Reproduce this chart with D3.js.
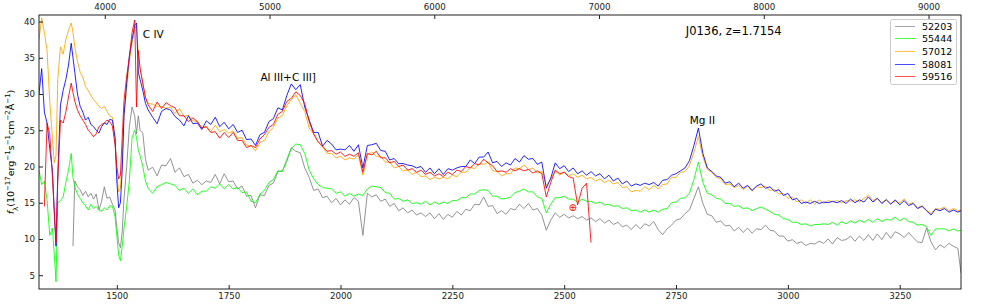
<!DOCTYPE html>
<html>
<head>
<meta charset="utf-8">
<script src="https://cdn.jsdelivr.net/npm/d3@7"></script>
<style>
body { margin: 0; background: #fff; }
svg { font-family: "DejaVu Sans", sans-serif; }
</style>
</head>
<body>
<div id="chart"></div>
<script>
// rest-frame wavelength grid (Angstrom)
var wave = [
    1326,1332,1338,1344,1350,1356,1360,1364,1368,1374,
    1380,1386,1392,1398,1402,1406,1412,1418,1424,1430,
    1436,1442,1448,1454,1460,1466,1472,1478,1484,1490,
    1496,1500,1504,1508,1512,1516,1522,1528,1534,1540,
    1544,1548,1552,1558,1564,1570,
    1580,1590,1600,1610,1620,1630,1640,1650,1660,1670,
    1680,1690,1700,1710,1720,1730,1740,1750,1760,1770,
    1780,1790,1800,1810,1820,1830,1840,1850,1860,1870,
    1880,1890,1900,1910,1920,1930,1940,1950,1960,1970,
    1980,1990,2000,2010,2020,2030,2040,2050,2060,2070,
    2080,2090,2100,2110,2120,2130,2140,2150,2160,2170,
    2180,2190,2200,2210,2220,2230,2240,2250,2260,2270,
    2280,2290,2300,2310,2320,2330,2340,2350,2360,2370,
    2380,2390,2400,2410,2420,2430,2440,2450,2460,2470,
    2480,2490,2500,2510,2520,2530,2540,2550,2560,2570,
    2580,2590,2600,2610,2620,2630,2640,2650,2660,2670,
    2680,2690,2700,2710,2720,2730,2740,2750,2760,2770,
    2780,2790,2800,2810,2820,2830,2840,2850,2860,2870,
    2880,2890,2900,2910,2920,2930,2940,2950,2960,2970,
    2980,2990,3000,3010,3020,3030,3040,3050,3060,3070,
    3080,3090,3100,3110,3120,3130,3140,3150,3160,3170,
    3180,3190,3200,3210,3220,3230,3240,3250,3260,3270,
    3280,3290,3300,3310,3320,3330,3340,3350,3360,3370,3380,3387
];

// flux per epoch (MJD), 1e-17 erg/s/cm2/A
var flux52203 = [
    null,null,null,null,null,null,null,null,null,null,
    null,null,null,null,9.0,18.0,17.2,16.8,16.0,16.6,
    15.8,16.3,15.5,16.2,14.0,15.2,17.2,15.6,15.8,14.8,
    14.0,11.5,9.5,8.8,11.0,15.5,20.0,25.5,28.2,27.0,
    24.5,27.0,25.0,24.6,21.0,19.5,
    19.9,18.7,20.2,20.1,21.1,19.2,19.8,18.6,18.9,17.7,
    18.1,17.5,18.0,17.8,18.9,17.6,19.0,17.9,18.0,16.9,
    17.3,15.9,16.0,14.3,16.1,16.0,17.4,17.7,19.3,19.4,
    20.7,22.6,22.1,21.9,19.8,18.5,16.7,16.9,15.7,15.9,
    15.0,15.6,14.7,15.4,14.8,15.7,15.2,10.5,16.3,15.8,
    16.1,15.2,15.5,14.5,14.9,13.9,14.3,13.6,14.0,13.3,
    13.6,13.1,13.6,12.8,13.5,12.7,13.4,13.0,13.8,13.3,
    14.1,13.9,14.8,14.7,15.8,14.5,14.6,13.5,13.9,13.4,
    14.2,14.0,14.8,14.2,14.9,14.0,14.2,13.3,11.2,12.6,
    13.6,13.0,13.4,12.9,13.2,12.8,13.1,12.6,12.9,12.4,
    12.8,12.2,12.6,12.0,12.3,11.7,11.9,11.3,12.0,11.4,
    12.1,11.8,12.4,11.3,10.6,11.4,11.9,12.6,12.8,13.5,
    14.0,15.6,17.2,14.9,13.4,13.2,12.3,12.5,11.8,11.9,
    11.1,11.6,10.9,11.5,10.8,11.4,11.3,11.9,11.2,11.1,
    10.4,10.4,9.7,9.9,9.4,9.6,9.1,9.4,9.3,9.7,
    9.4,10.0,9.3,10.2,9.8,9.9,10.4,9.7,10.4,9.8,
    10.6,9.8,10.7,9.9,10.9,10.1,11.0,10.7,10.2,10.9,
    10.2,9.6,9.5,11.5,9.6,8.5,9.2,8.8,9.4,9.0,8.7,5.3
];

var flux55444 = [
    19.5,17.5,18.0,15.4,10.5,11.5,8.0,4.1,15.0,15.3,
    15.8,17.8,19.5,21.8,18.5,17.2,16.2,15.6,15.0,14.6,
    14.0,14.8,14.2,14.5,14.0,13.8,14.3,14.0,14.6,14.5,
    13.1,10.5,7.8,7.0,9.0,11.5,14.5,18.0,24.0,25.0,
    24.0,22.3,21.5,20.0,18.0,17.0,
    16.3,17.2,17.5,17.8,17.6,17.4,16.7,17.0,16.3,16.9,
    16.1,16.6,16.6,17.2,17.0,17.6,16.9,17.5,16.9,17.1,
    16.4,16.5,15.2,15.0,16.2,16.7,17.8,18.2,19.4,19.3,
    21.0,22.5,23.1,23.0,21.8,19.5,18.3,17.5,17.1,17.0,
    16.9,16.3,16.5,15.9,16.3,15.9,16.2,16.0,16.9,17.3,
    17.2,17.1,16.4,16.3,15.5,15.6,15.2,15.4,14.9,15.0,
    14.8,15.2,14.7,15.1,14.8,15.1,14.9,15.3,15.3,15.7,
    15.7,16.2,16.2,16.7,16.8,16.7,15.9,15.9,15.5,15.6,
    15.8,16.4,16.6,16.9,16.5,16.5,15.8,15.6,13.6,14.8,
    15.7,15.7,15.9,15.5,15.5,15.1,15.5,15.2,15.2,14.9,
    15.1,14.7,14.8,14.5,14.6,14.2,14.3,13.9,14.0,13.7,
    14.0,13.7,14.0,13.7,14.1,14.2,15.0,15.1,15.6,15.7,
    16.3,18.2,20.6,17.8,16.3,16.1,15.6,15.5,14.9,14.9,
    14.5,14.6,14.2,14.3,13.9,14.2,14.4,14.1,13.8,13.4,
    13.3,12.8,12.7,12.3,12.3,12.0,12.1,11.8,12.0,12.0,
    12.1,12.0,12.3,11.9,12.4,12.1,12.5,12.2,12.6,12.3,
    12.7,12.3,12.8,12.4,12.7,12.6,13.0,12.5,12.9,12.4,
    12.3,11.9,12.0,11.7,10.5,11.4,11.4,11.4,11.1,11.4,11.1,11.2
];

var flux57012 = [
    37.5,40.5,38.5,36.0,29.0,24.0,20.5,21.5,32.0,36.5,
    35.5,37.5,38.8,39.8,38.5,36.5,34.5,33.0,32.3,31.0,
    30.5,29.8,29.2,28.8,28.3,28.0,28.3,27.6,27.0,26.8,
    24.0,19.0,16.5,17.0,21.0,27.0,31.0,34.5,37.0,39.0,
    39.5,35.5,33.5,31.5,29.5,28.7,
    28.6,28.3,28.3,28.0,28.2,27.3,28.0,26.9,27.1,26.3,
    26.2,25.3,25.5,24.8,25.7,24.8,25.1,24.6,24.9,23.9,
    24.0,22.9,22.8,22.2,23.3,23.6,24.8,25.4,26.7,27.0,
    28.4,29.2,29.9,28.7,27.6,25.3,24.5,23.4,22.7,21.8,
    21.8,21.2,21.4,20.9,21.2,21.0,21.6,18.8,21.6,22.0,
    21.4,21.4,20.6,20.6,19.8,20.0,19.4,19.5,18.9,19.2,
    18.6,18.7,18.2,18.5,18.3,18.5,18.3,18.8,18.6,19.2,
    19.2,19.9,19.7,20.4,20.3,20.6,19.4,19.3,18.7,19.0,
    19.0,19.8,19.7,20.2,19.6,19.8,19.1,19.3,17.4,18.3,
    19.4,18.8,19.3,18.7,19.0,18.5,18.8,18.3,18.5,18.0,
    18.3,17.8,18.1,17.6,17.8,17.1,17.2,16.5,16.7,16.6,
    17.2,16.8,17.4,16.9,17.5,17.6,18.5,18.5,19.2,19.3,
    20.1,22.0,24.1,21.3,19.6,19.2,18.5,18.3,17.5,17.6,
    17.1,17.4,16.8,17.3,16.6,17.2,17.1,17.3,16.7,16.8,
    16.2,16.3,15.6,15.8,15.1,15.4,14.9,15.4,14.8,15.4,
    14.9,15.3,15.1,15.3,15.0,15.3,15.2,15.4,15.1,15.6,
    16.0,15.3,15.6,15.0,15.5,14.9,15.2,15.0,15.5,14.8,
    15.0,14.3,14.6,14.0,13.5,14.2,14.1,14.4,13.9,14.2,13.9,14.0
];

var flux58081 = [
    30.0,33.5,27.5,26.0,22.5,19.5,14.0,9.0,19.0,28.5,
    30.5,32.0,34.0,37.0,35.0,33.0,30.0,28.3,27.5,26.4,
    26.8,25.8,25.5,25.0,24.6,25.5,26.0,25.8,26.5,26.4,
    24.0,18.0,14.3,15.0,19.5,27.0,31.5,35.3,37.5,39.5,
    39.8,33.0,32.0,30.5,28.7,27.8,
    26.8,25.9,27.6,28.0,27.8,26.9,26.4,25.6,27.0,25.9,
    26.0,25.1,26.3,25.8,26.8,25.5,26.1,25.2,25.8,24.7,
    25.0,23.7,23.8,22.9,24.4,24.7,26.2,26.6,28.1,27.8,
    29.8,31.4,30.6,31.3,28.2,26.4,24.7,24.7,22.8,23.6,
    23.1,22.3,22.4,22.3,22.9,22.1,23.0,19.8,22.9,23.0,
    23.2,22.2,22.1,20.9,21.1,20.4,20.4,20.2,20.1,19.8,
    20.0,19.2,19.8,19.0,19.7,18.9,19.7,19.5,19.8,20.0,
    20.0,20.9,20.4,21.3,21.3,22.0,20.5,20.7,20.0,20.5,
    20.2,21.1,20.6,21.5,21.0,21.1,20.3,20.6,17.0,18.4,
    20.5,19.7,20.1,19.3,19.8,19.0,19.4,18.8,19.3,18.7,
    19.0,18.3,18.8,18.0,18.4,17.6,18.0,17.3,17.6,17.4,
    17.7,17.5,17.8,17.3,18.1,18.2,18.8,19.0,19.4,19.8,
    20.8,22.9,25.3,21.8,19.8,19.3,18.7,18.5,17.7,17.9,
    17.2,17.7,17.0,17.4,16.7,17.3,17.6,17.0,17.2,16.6,
    16.8,16.0,16.3,15.4,15.6,14.9,15.1,14.9,15.2,14.9,
    15.1,15.0,15.2,15.0,15.3,14.9,15.5,15.0,15.4,15.1,
    15.8,15.1,15.6,14.9,15.4,14.8,15.4,14.7,15.3,14.6,
    14.9,14.2,14.5,13.9,13.3,14.1,13.9,14.2,13.7,14.0,13.7,13.9
];

// 59516 stops at ~2560 A
var flux59516 = [
    null,null,14.5,26.0,24.5,18.5,14.0,9.5,18.0,26.4,
    26.0,27.5,29.6,31.5,30.2,29.0,27.8,27.0,26.4,25.8,
    25.0,24.6,24.1,24.5,25.5,25.8,26.0,26.4,26.2,25.6,
    23.0,20.0,18.3,18.8,24.0,29.0,32.5,35.0,38.5,40.2,
    28.2,36.0,33.5,31.5,29.5,28.5,
    27.6,28.9,28.0,28.8,28.4,28.1,27.0,27.0,26.2,26.7,
    26.2,25.3,25.5,24.7,24.8,23.9,24.7,24.0,24.7,23.6,
    23.6,22.6,22.9,22.6,23.8,24.4,25.4,25.8,27.2,27.6,
    29.0,29.4,30.3,29.8,28.7,26.2,24.5,23.4,22.8,22.1,
    22.2,21.7,22.0,21.4,21.7,21.4,21.9,19.2,21.8,21.6,
    22.1,21.2,21.2,20.5,20.7,20.0,20.2,19.5,19.7,19.2,
    19.5,18.9,19.2,18.7,19.0,18.6,19.2,18.9,19.5,19.3,
    20.0,19.8,20.4,20.2,21.0,20.5,20.1,19.3,19.4,19.2,
    19.7,19.4,19.7,19.4,19.6,19.1,19.4,19.0,15.8,17.8,
    19.5,19.0,19.2,18.6,18.4,14.7,17.0,17.7,9.5
];

var epochs = ["52203", "55444", "57012", "58081", "59516"];
var fluxes = [flux52203, flux55444, flux57012, flux58081, flux59516];
var colors = ["gray", "lime", "orange", "blue", "red"];

var restTicks = [1500, 1750, 2000, 2250, 2500, 2750, 3000, 3250];
var obsTicks = [4000, 5000, 6000, 7000, 8000, 9000];
var fluxTicks = [5, 10, 15, 20, 25, 30, 35, 40];
var redshift = 1.7154;

var lineLabels = [
    { text: "C IV", wave: 1558, flux: 38.3, anchor: "start" },
    { text: "Al III+C III]", wave: 1883, flux: 32.3, anchor: "middle" },
    { text: "Mg II", wave: 2809, flux: 26.4, anchor: "middle" }
];

function init() {
    var W = 981, H = 305;
    var margin = { top: 15, right: 20, bottom: 16, left: 39 };
    var w = W - margin.left - margin.right;
    var h = H - margin.top - margin.bottom;

    var svg = d3.select("#chart").append("svg")
                .attr("width", W)
                .attr("height", H)
                .append("g")
                .attr("transform", "translate(" + margin.left + "," + margin.top + ")");

    var x = d3.scaleLinear().domain([1326, 3387]).range([0, w]);
    var xTop = d3.scaleLinear()
                 .domain(x.domain().map(d => d * (1 + redshift)))
                 .range([0, w]);
    var y = d3.scaleLinear().domain([3.1, 40.9]).range([h, 0]);

    svg.append("clipPath").attr("id", "plotclip")
       .append("rect").attr("width", w).attr("height", h);

    // spectra, oldest first
    var line = d3.line()
                 .defined(d => d[1] != null)
                 .x(d => x(d[0]))
                 .y(d => y(d[1]));

    var plot = svg.append("g").attr("clip-path", "url(#plotclip)");
    fluxes.forEach(function(f, i) {
        var pts = wave.map((wl, k) => [wl, f[k] === undefined ? null : f[k]]);
        plot.append("path")
            .datum(pts)
            .attr("fill", "none")
            .attr("stroke", colors[i])
            .attr("stroke-opacity", 0.85)
            .attr("stroke-width", 1)
            .attr("stroke-linejoin", "round")
            .attr("d", line);
    });

    // axes (ticks pointing in)
    var fs = "8.7px";
    var fmt = d3.format("d");
    var bottom = svg.append("g")
                    .attr("transform", "translate(0," + h + ")")
                    .call(d3.axisBottom(x).tickValues(restTicks).tickFormat(fmt)
                            .tickSizeInner(-4).tickSizeOuter(0).tickPadding(4));
    var top = svg.append("g")
                 .call(d3.axisTop(xTop).tickValues(obsTicks).tickFormat(fmt)
                         .tickSizeInner(-4).tickSizeOuter(0).tickPadding(5));
    var left = svg.append("g")
                  .call(d3.axisLeft(y).tickValues(fluxTicks).tickFormat(fmt)
                          .tickSizeInner(-4).tickSizeOuter(0).tickPadding(4));

    [bottom, top, left].forEach(function(g) {
        g.select(".domain").remove();
        g.selectAll("text").style("font-size", fs).attr("fill", "#222").style("font-family", "DejaVu Sans");
        g.selectAll("line").attr("stroke", "#222");
    });

    svg.append("rect")
       .attr("width", w).attr("height", h)
       .attr("fill", "none")
       .attr("stroke", "#222")
       .attr("stroke-width", 1);

    // emission line names
    svg.selectAll(".lname")
       .data(lineLabels)
       .enter().append("text")
       .attr("class", "lname")
       .attr("x", d => x(d.wave))
       .attr("y", d => y(d.flux))
       .attr("text-anchor", d => d.anchor)
       .attr("dominant-baseline", "central")
       .style("font-size", "10.5px")
       .text(d => d.text);

    svg.append("text")
       .attr("x", x(2879))
       .attr("y", y(38.7))
       .attr("text-anchor", "middle")
       .attr("dominant-baseline", "central")
       .style("font-size", "11.5px")
       .text("J0136, z=" + redshift);

    // telluric mark
    svg.append("text")
       .attr("x", x(2519))
       .attr("y", y(14.3))
       .attr("text-anchor", "middle")
       .attr("dominant-baseline", "central")
       .attr("fill", "red")
       .style("font-size", "10px")
       .text("\u2295");

    // y label
    var yl = svg.append("text")
                .attr("transform", "translate(" + (14 - margin.left) + "," + (152 - margin.top) + ") rotate(-90)")
                .attr("text-anchor", "middle")
                .style("font-size", "9.5px");
    yl.append("tspan").style("font-style", "italic").text("f");
    yl.append("tspan").attr("baseline-shift", "sub").style("font-size", "7px").text("\u03bb");
    var parts = [["(10", "\u221217"], ["erg", "\u22121"], ["s", "\u22121"], ["cm", "\u22122"], ["\u00c5", "\u22121"]];
    parts.forEach(function(p) {
        yl.append("tspan").text(p[0]);
        yl.append("tspan").attr("baseline-shift", "super").style("font-size", "7px").text(p[1]);
    });
    yl.append("tspan").text(")");

    // legend
    var lg = svg.append("g").attr("transform", "translate(" + (890 - margin.left) + "," + (19 - margin.top) + ")");
    lg.append("rect")
      .attr("x", 0.5).attr("y", 0.5)
      .attr("width", 66).attr("height", 65).attr("rx", 2)
      .attr("fill", "white").attr("fill-opacity", 0.8)
      .attr("stroke", "#ccc");
    var rows = lg.selectAll(".row")
                 .data(epochs)
                 .enter().append("g")
                 .attr("transform", (d, i) => "translate(0," + (Math.round(6.7 + i * 12.6) + 0.5) + ")");
    rows.append("line")
        .attr("x1", 5).attr("x2", 25)
        .attr("stroke", (d, i) => colors[i])
        .attr("stroke-opacity", 0.7)
        .attr("stroke-width", 1);
    rows.append("text")
        .attr("x", 32)
        .attr("dominant-baseline", "central")
        .style("font-size", "9.5px")
        .text(d => d);
}

window.onload = init;
</script>
</body>
</html>
